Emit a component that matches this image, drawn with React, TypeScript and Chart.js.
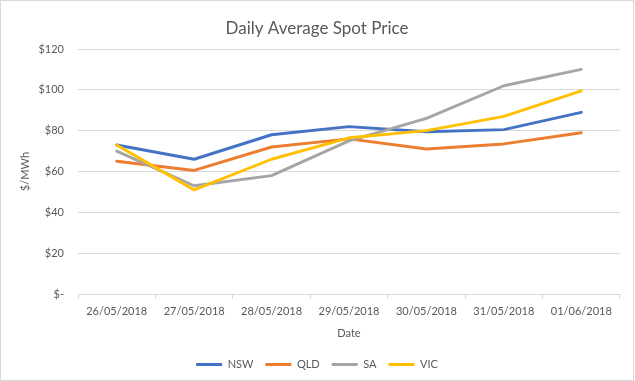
import React, { useEffect, useRef } from "react";
import { Chart, registerables } from "chart.js";

Chart.register(...registerables);

const categories = ["26/05/2018", "27/05/2018", "28/05/2018", "29/05/2018", "30/05/2018", "31/05/2018", "01/06/2018"];
const nsw = [73, 66, 78, 82, 79.5, 80.5, 89];
const qld = [65, 60.5, 72, 76, 71, 73.5, 79];
const sa = [70, 53, 58, 75, 86, 102, 110];
const vic = [73, 51, 66, 76.5, 80, 87, 99.5];
const seriesNames = ["NSW", "QLD", "SA", "VIC"];
const seriesColors = ["#4472C4", "#ED7D31", "#A5A5A5", "#FFC000"];
const yTicks = [0, 20, 40, 60, 80, 100, 120];

const FONT = "Lato, 'Open Sans', sans-serif";
const TEXT = "#595959";
const GRID = "#D9D9D9";

export default function App() {
  const ref = useRef<HTMLCanvasElement | null>(null);
  useEffect(() => {
    if (!ref.current) return;
    const values = [nsw, qld, sa, vic];
    const chart = new Chart(ref.current, {
      type: "line",
      data: {
        labels: categories,
        datasets: values.map((v, i) => ({
          label: seriesNames[i],
          data: v,
          borderColor: seriesColors[i],
          backgroundColor: seriesColors[i],
          borderWidth: 2.9,
          pointRadius: 0,
          tension: 0,
          borderJoinStyle: "round" as const,
          borderCapStyle: "round" as const,
          order: 3 - i,
        })),
      },
      options: {
        animation: false,
        responsive: false,
        devicePixelRatio: 1,
        layout: { padding: { left: 0, right: 0, top: 0, bottom: 0 } },
        plugins: {
          tooltip: { enabled: false },
          title: {
            display: true,
            text: "Daily Average Spot Price",
            color: TEXT,
            font: { family: FONT, size: 17, weight: "normal" },
            padding: { top: 17, bottom: 10.6 },
          },
          legend: {
            position: "bottom",
            labels: {
              color: TEXT,
              font: { family: FONT, size: 11 },
              boxWidth: 26,
              boxHeight: 3,
              padding: 12,
              sort: (a: any, b: any) => a.datasetIndex - b.datasetIndex,
              generateLabels: (c: any) => {
                const items = Chart.defaults.plugins.legend.labels.generateLabels(c);
                return items.map((it: any) => ({ ...it, lineWidth: 0, fillStyle: seriesColors[it.datasetIndex] }));
              },
            },
          },
        },
        scales: {
          x: {
            offset: true,
            grid: {
              display: true,
              offset: true,
              drawOnChartArea: false,
              drawTicks: true,
              tickLength: 5,
              color: GRID,
            },
            border: { display: true, color: GRID, width: 1 },
            ticks: { color: TEXT, font: { family: FONT, size: 11 }, padding: 6, maxRotation: 0, autoSkip: false },
            title: {
              display: true,
              text: "Date",
              color: TEXT,
              font: { family: FONT, size: 11 },
              padding: { top: 0, bottom: 7 },
            },
            afterFit: (s: any) => {
              s.height = 53;
            },
          },
          y: {
            min: 0,
            max: 120,
            afterBuildTicks: (s: any) => {
              s.ticks = yTicks.map((v) => ({ value: v }));
            },
            grid: { color: GRID, drawTicks: false, tickLength: 0 },
            border: { display: false },
            ticks: {
              color: TEXT,
              font: { family: FONT, size: 11 },
              padding: 14,
              callback: (v: any) => (Number(v) === 0 ? "$-" : "$" + v),
            },
            title: {
              display: true,
              text: "$/MWh",
              color: TEXT,
              font: { family: FONT, size: 11 },
              padding: { top: 18, bottom: 0 },
            },
            afterFit: (s: any) => {
              s.width = 77;
            },
          },
          spacer: {
            type: "linear",
            position: "right",
            display: true,
            grid: { display: false, drawTicks: false },
            border: { display: false },
            ticks: { display: false },
            afterFit: (s: any) => {
              s.width = 13;
            },
          },
        },
      },
    });
    return () => chart.destroy();
  }, []);
  return (
    <div
      style={{
        position: "absolute",
        left: 0,
        top: 0,
        width: 632,
        height: 379,
        border: "1px solid #D9D9D9",
        background: "#fff",
      }}
    >
      <canvas ref={ref} width={632} height={379} style={{ display: "block", width: 632, height: 379 }} />
    </div>
  );
}
